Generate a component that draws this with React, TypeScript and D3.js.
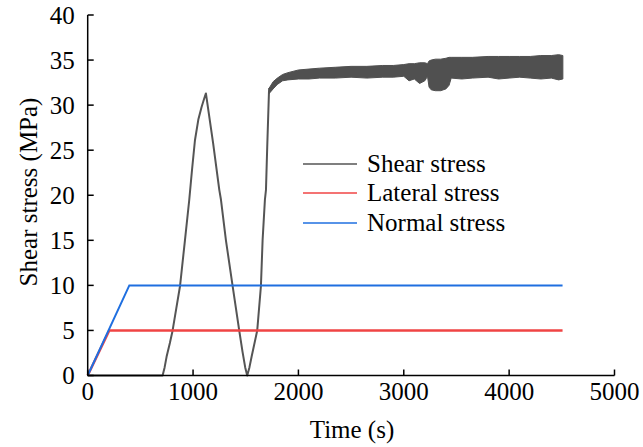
import React from "react";
import * as d3 from "d3";

const xTicks = [0, 1000, 2000, 3000, 4000, 5000];
const yTicks = [0, 5, 10, 15, 20, 25, 30, 35, 40];

// Shear stress (thin line part)
const shearTime = [0, 711, 730, 749, 780, 806, 840, 876, 923, 964, 990, 1018, 1050, 1081, 1105, 1122, 1190, 1249, 1265, 1312, 1376, 1438, 1470, 1495, 1514, 1535, 1556, 1609, 1644, 1660, 1682, 1692, 1704, 1720, 1723];
const shearValue = [0, 0, 0.9, 2.1, 3.6, 5, 7.4, 9.9, 15, 19.5, 22.8, 26.1, 28.4, 29.8, 30.7, 31.3, 25.8, 20.6, 19.5, 15, 9.9, 5, 2.6, 0.9, 0, 0.9, 2.1, 5, 9.9, 15, 19.5, 20.6, 25.4, 31.3, 31.9];

// Shear stress oscillating band (envelope)
const bandTime = [1723, 1760, 1800, 1850, 1900, 2000, 2100, 2200, 2350, 2500, 2650, 2800, 2900, 3000, 3050, 3100, 3150, 3200, 3225, 3240, 3260, 3300, 3350, 3400, 3430, 3450, 3550, 3650, 3800, 3900, 4000, 4100, 4200, 4300, 4400, 4470, 4510];
const bandHigh = [31.9, 32.6, 33.0, 33.4, 33.6, 33.9, 34.0, 34.1, 34.2, 34.3, 34.3, 34.4, 34.4, 34.5, 34.6, 34.6, 34.7, 34.7, 34.6, 34.9, 35.0, 35.1, 35.1, 35.2, 35.3, 35.3, 35.3, 35.3, 35.4, 35.4, 35.4, 35.4, 35.4, 35.5, 35.5, 35.6, 35.5];
const bandLow = [31.3, 31.8, 32.3, 32.7, 32.8, 32.9, 32.9, 33.0, 33.0, 33.1, 33.0, 33.1, 33.1, 33.2, 32.7, 32.9, 32.4, 32.7, 33.2, 32.0, 31.7, 31.6, 31.6, 31.8, 32.2, 33.0, 32.9, 33.0, 33.1, 32.9, 33.0, 33.1, 33.0, 32.9, 33.0, 32.8, 32.9];

const lateralTime = [0, 205, 4507];
const lateralValue = [0, 5, 5];

const normalTime = [0, 395, 4507];
const normalValue = [0, 10, 10];

const legendLabels = ["Shear stress", "Lateral stress", "Normal stress"];
const legendColors = ["#555555", "#f04444", "#1f6fe0"];

const W = 643;
const H = 447;
const FONT = "'Liberation Serif', 'Times New Roman', serif";

export default function App() {
  const x = d3.scaleLinear().domain([0, 5000]).range([87.7, 614.5]);
  const y = d3.scaleLinear().domain([0, 40]).range([375.5, 15]);

  const line = d3
    .line<[number, number]>()
    .x((d) => x(d[0]))
    .y((d) => y(d[1]));

  const area = d3
    .area<number>()
    .x((i) => x(bandTime[i]))
    .y0((i) => y(bandLow[i]))
    .y1((i) => y(bandHigh[i]));

  const shearPts = shearTime.map((t, i) => [t, shearValue[i]] as [number, number]);
  const latPts = lateralTime.map((t, i) => [t, lateralValue[i]] as [number, number]);
  const normPts = normalTime.map((t, i) => [t, normalValue[i]] as [number, number]);
  const bandIdx = bandTime.map((_, i) => i);

  const x0 = x(0);
  const y0 = y(0);

  return (
    <svg
      width={W}
      height={H}
      style={{ position: "absolute", left: 0, top: 0, background: "#fff" }}
      fontFamily={FONT}
    >
      <rect x={0} y={0} width={W} height={H} fill="#fff" />
      {/* data */}
      <path d={line(shearPts) || ""} fill="none" stroke="#555555" strokeWidth={2} strokeLinejoin="round" />
      <path d={area(bandIdx) || ""} fill="#505050" stroke="#505050" strokeWidth={1} />
      <path d={line(latPts) || ""} fill="none" stroke="#f04444" strokeWidth={2.5} />
      <path d={line(normPts) || ""} fill="none" stroke="#1f6fe0" strokeWidth={2} />

      {/* axes */}
      <line x1={x0} x2={x0} y1={y(40)} y2={y0} stroke="#000" strokeWidth={1.5} />
      <line x1={x0} x2={x(5000)} y1={y0} y2={y0} stroke="#000" strokeWidth={1.5} />
      {yTicks.map((v) => (
        <g key={"y" + v}>
          <line x1={x0} x2={x0 + 6} y1={y(v)} y2={y(v)} stroke="#000" strokeWidth={1.5} />
          <text x={x0 - 13} y={y(v) + 8.5} textAnchor="end" fontSize={25} fill="#000">
            {v}
          </text>
        </g>
      ))}
      {xTicks.map((v) => (
        <g key={"x" + v}>
          <line x1={x(v)} x2={x(v)} y1={y0} y2={y0 - 6} stroke="#000" strokeWidth={1.5} />
          <text x={x(v)} y={400} textAnchor="middle" fontSize={25} fill="#000">
            {v}
          </text>
        </g>
      ))}
      <text x={352} y={438} textAnchor="middle" fontSize={25} fill="#000">
        Time (s)
      </text>
      <text
        transform={`translate(37,192) rotate(-90)`}
        textAnchor="middle"
        fontSize={25}
        fill="#000"
      >
        Shear stress (MPa)
      </text>

      {/* legend */}
      {legendLabels.map((lab, i) => {
        const ly = [164, 193, 223][i];
        return (
          <g key={lab}>
            <line x1={303} x2={357} y1={ly} y2={ly} stroke={legendColors[i]} strokeWidth={1.5} />
            <text x={367} y={ly + 8} fontSize={25} fill="#000">
              {lab}
            </text>
          </g>
        );
      })}
    </svg>
  );
}
